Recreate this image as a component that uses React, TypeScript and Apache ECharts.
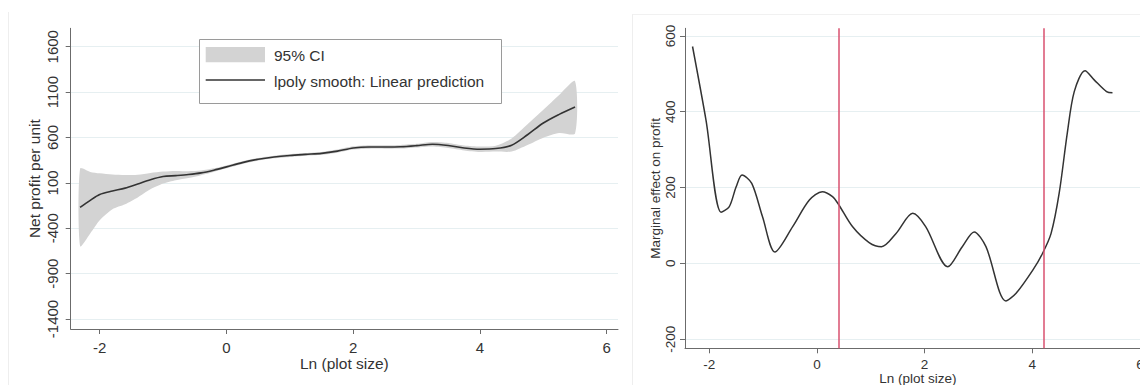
import React, { useEffect, useRef } from "react";
import * as echarts from "echarts";

// ---- Left panel: lpoly smooth with 95% CI ----
const leftX = [-2.31, -2.15, -2.0, -1.8, -1.6, -1.4, -1.2, -1.0, -0.8, -0.6, -0.4, -0.2, 0, 0.25, 0.5, 0.75, 1.0, 1.25, 1.5, 1.75, 2.0, 2.25, 2.5, 2.75, 3.0, 3.25, 3.5, 3.75, 4.0, 4.25, 4.5, 4.75, 5.0, 5.25, 5.5];
const leftPred = [-171, -92, -28, 10, 42, 88, 135, 170, 180, 192, 210, 240, 276, 323, 360, 385, 402, 414, 425, 450, 485, 496, 496, 498, 510, 526, 512, 485, 471, 478, 515, 630, 760, 855, 937];
const leftUpper = [258, 221, 205, 192, 186, 190, 210, 225, 232, 228, 235, 260, 292, 338, 375, 400, 418, 430, 441, 467, 503, 515, 515, 518, 530, 551, 540, 512, 500, 510, 590, 745, 905, 1068, 1220];
const leftLower = [-597, -457, -311, -190, -135, -60, 30, 93, 130, 155, 185, 220, 260, 308, 345, 370, 386, 398, 409, 433, 467, 477, 477, 478, 490, 501, 484, 458, 441, 445, 445, 517, 598, 650, 644];
const leftXTicks = [-2, 0, 2, 4, 6];
const leftYTicks = [-1400, -900, -400, 100, 600, 1100, 1600];

// ---- Right panel: marginal effect ----
const rightX = [-2.31, -2.06, -1.78, -1.63, -1.5, -1.39, -1.21, -1.01, -0.78, -0.45, -0.14, 0.1, 0.29, 0.4, 0.66, 0.97, 1.2, 1.47, 1.78, 2.02, 2.43, 2.7, 2.92, 3.14, 3.51, 3.7, 4.01, 4.19, 4.35, 4.5, 4.65, 4.78, 4.98, 5.15, 5.38, 5.49];
const rightY = [572, 378, 135, 149, 202, 233, 211, 123, 30, 97, 167, 189, 176, 156, 97, 55, 44, 79, 132, 97, -9, 44, 83, 44, -99, -79, -18, 26, 79, 185, 343, 453, 508, 484, 453, 450];
const vLines = [0.4, 4.21];
const rightXTicks = [-2, 0, 2, 4, 6];
const rightYTicks = [-200, 0, 200, 400, 600];

const FONT = "'Liberation Sans', Arial, sans-serif";
const TXT = "#333";
const AX = "#6b6b6b";
const GRIDC = "#e6eff1";

function axisCommon(ticks: number[], size: number, margin: number, rotate = 0) {
  return {
    nameMoveOverlap: false,
    axisLine: { show: true, onZero: false, lineStyle: { color: AX, width: 1 } },
    axisTick: { show: true, length: 5, lineStyle: { color: AX }, customValues: ticks },
    axisLabel: {
      customValues: ticks, fontSize: size, color: TXT, fontFamily: FONT, margin, rotate,
      formatter: (v: number) => String(v),
    },
  };
}

export default function App() {
  const ref = useRef<HTMLDivElement>(null);
  useEffect(() => {
    if (!ref.current) return;
    const chart = echarts.init(ref.current, undefined, { renderer: "svg" });
    const zip = (xs: number[], ys: number[]) => xs.map((x, i) => [x, ys[i]]);
    chart.setOption({
      animation: false,
      backgroundColor: "#fff",
      grid: [
        { left: 70.7, top: 28.3, width: 547.3, height: 300.7, containLabel: false, outerBoundsMode: "none" },
        { left: 685, top: 28.3, width: 465.7, height: 320, containLabel: false, outerBoundsMode: "none" },
      ],
      xAxis: [
        {
          type: "value", gridIndex: 0, min: -2.458, max: 6.178,
          name: "Ln (plot size)", nameLocation: "middle", nameGap: 26,
          nameTextStyle: { fontSize: 15.5, color: TXT, fontFamily: FONT },
          splitLine: { show: false },
          ...axisCommon(leftXTicks, 15, 11),
        },
        {
          type: "value", gridIndex: 1, min: -2.45, max: 6.2,
          name: "Ln (plot size)", nameLocation: "middle", nameGap: 23,
          nameTextStyle: { fontSize: 13.5, color: TXT, fontFamily: FONT },
          splitLine: { show: false },
          ...axisCommon(rightXTicks, 13.5, 9),
        },
      ],
      yAxis: [
        {
          type: "value", gridIndex: 0, min: -1510, max: 1803,
          name: "Net profit per unit", nameLocation: "middle", nameGap: 28, nameRotate: 90,
          nameTextStyle: { fontSize: 15.5, color: TXT, fontFamily: FONT },
          splitLine: { show: true, lineStyle: { color: GRIDC, width: 1 } },
          ...axisCommon(leftYTicks, 15, 11, 90),
        },
        {
          type: "value", gridIndex: 1, min: -224, max: 620,
          name: "Marginal effect on profit", nameLocation: "middle", nameGap: 23, nameRotate: 90,
          nameTextStyle: { fontSize: 13.5, color: TXT, fontFamily: FONT },
          splitLine: { show: true, lineStyle: { color: GRIDC, width: 1 } },
          ...axisCommon(rightYTicks, 13.5, 8, 90),
        },
      ],
      series: [
        {
          name: "95% CI", type: "custom", xAxisIndex: 0, yAxisIndex: 0,
          data: [[leftX[0], leftLower[0]]], silent: true, z: 2, clip: true,
          renderItem: (params: any, api: any) => {
            const up = leftX.map((x, i) => api.coord([x, leftUpper[i]]));
            const lo = leftX.map((x, i) => api.coord([x, leftLower[i]])).reverse();
            return {
              type: "polygon",
              shape: { points: up.concat(lo), smooth: 0.25 },
              style: { fill: "#d3d3d3", stroke: "none" },
            };
          },
        },
        {
          name: "lpoly smooth: Linear prediction", type: "line", xAxisIndex: 0, yAxisIndex: 0,
          data: zip(leftX, leftPred), smooth: 0.3, symbol: "none",
          lineStyle: { color: "#333", width: 1.6 }, z: 3,
        },
        {
          name: "Marginal effect", type: "line", xAxisIndex: 1, yAxisIndex: 1,
          data: zip(rightX, rightY), smooth: 0.3, symbol: "none",
          lineStyle: { color: "#333", width: 1.5 }, z: 3,
          markLine: {
            silent: true, symbol: ["none", "none"], label: { show: false },
            lineStyle: { color: "#d9506f", width: 1.5, type: "solid" },
            data: vLines.map((v) => ({ xAxis: v })),
          },
        },
      ],
      graphic: [
        { type: "line", shape: { x1: 8.5, y1: 12, x2: 8.5, y2: 385 }, style: { stroke: "#eeeeee", lineWidth: 1 }, silent: true },
        { type: "line", shape: { x1: 632.5, y1: 14, x2: 632.5, y2: 385 }, style: { stroke: "#eeeeee", lineWidth: 1 }, silent: true },
        { type: "line", shape: { x1: 632.5, y1: 14.5, x2: 1170, y2: 14.5 }, style: { stroke: "#f1f1f1", lineWidth: 1 }, silent: true },
        { type: "rect", shape: { x: 199.5, y: 39.5, width: 302, height: 64 }, style: { fill: "#fff", stroke: "#9a9a9a", lineWidth: 1 }, silent: true, z: 10 },
        { type: "rect", shape: { x: 205.7, y: 47, width: 59.3, height: 15.3 }, style: { fill: "#d3d3d3" }, silent: true, z: 11 },
        { type: "line", shape: { x1: 205.7, y1: 80, x2: 265, y2: 80 }, style: { stroke: "#333", lineWidth: 1.6 }, silent: true, z: 11 },
        { type: "text", x: 274, y: 55, style: { text: "95% CI", fontSize: 15.5, fontFamily: FONT, fill: TXT, verticalAlign: "middle" }, silent: true, z: 11 },
        { type: "text", x: 274, y: 81, style: { text: "lpoly smooth: Linear prediction", fontSize: 15.5, fontFamily: FONT, fill: TXT, verticalAlign: "middle" }, silent: true, z: 11 },
      ],
    });
    return () => chart.dispose();
  }, []);
  return <div ref={ref} style={{ position: "fixed", left: 0, top: 0, width: 1170, height: 385 }} />;
}
